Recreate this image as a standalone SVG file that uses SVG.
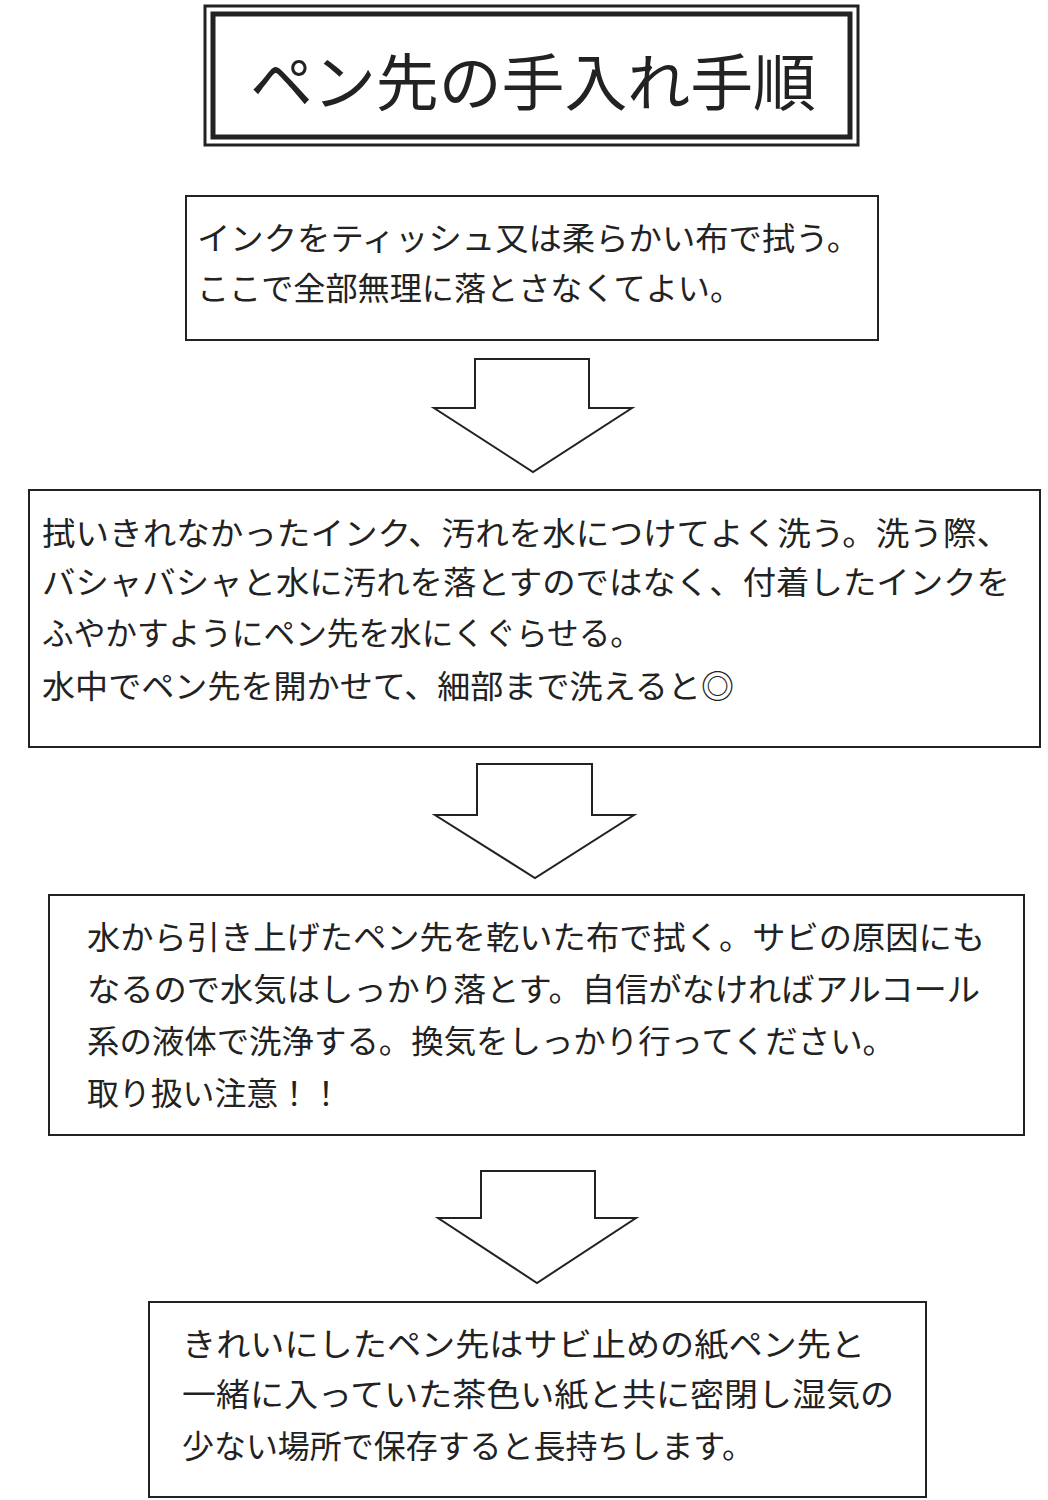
<svg xmlns="http://www.w3.org/2000/svg" width="1048" height="1500" viewBox="0 0 1048 1500">
<style>
.b{fill:#fff;stroke:#222;stroke-width:2}
.t{font-family:"Noto Sans CJK JP","Liberation Sans",sans-serif;font-size:32px;fill:#222}
.a{fill:#fff;stroke:#222;stroke-width:2;stroke-linejoin:miter}
</style>
<rect width="1048" height="1500" fill="#fff"/>
<g id="title">
<rect x="205" y="6" width="653" height="139" fill="#fff" stroke="#222" stroke-width="3"/>
<rect x="213" y="14" width="637" height="123" fill="none" stroke="#222" stroke-width="5"/>
<text x="250" y="106" style="font-family:'Noto Sans CJK JP',sans-serif;font-size:62px;fill:#222" textLength="566" lengthAdjust="spacingAndGlyphs">ペン先の手入れ手順</text>
</g>
<g id="step1">
<rect class="b" x="186" y="196" width="692" height="144"/>
<text class="t" x="197" y="250" textLength="663" lengthAdjust="spacingAndGlyphs">インクをティッシュ又は柔らかい布で拭う。</text>
<text class="t" x="197" y="300" textLength="545" lengthAdjust="spacingAndGlyphs">ここで全部無理に落とさなくてよい。</text>
</g>
<g id="step2">
<rect class="b" x="29" y="490" width="1011" height="257"/>
<text class="t" x="42" y="545" textLength="968" lengthAdjust="spacingAndGlyphs">拭いきれなかったインク、汚れを水につけてよく洗う。洗う際、</text>
<text class="t" x="42" y="594" textLength="968" lengthAdjust="spacingAndGlyphs">バシャバシャと水に汚れを落とすのではなく、付着したインクを</text>
<text class="t" x="42" y="645" textLength="600" lengthAdjust="spacingAndGlyphs">ふやかすようにペン先を水にくぐらせる。</text>
<text class="t" x="42" y="698" textLength="692" lengthAdjust="spacingAndGlyphs">水中でペン先を開かせて、細部まで洗えると◎</text>
</g>
<g id="step3">
<rect class="b" x="49" y="895" width="975" height="240"/>
<text class="t" x="87" y="949" textLength="898" lengthAdjust="spacingAndGlyphs">水から引き上げたペン先を乾いた布で拭く。サビの原因にも</text>
<text class="t" x="87" y="1001" textLength="893" lengthAdjust="spacingAndGlyphs">なるので水気はしっかり落とす。自信がなければアルコール</text>
<text class="t" x="87" y="1053" textLength="808" lengthAdjust="spacingAndGlyphs">系の液体で洗浄する。換気をしっかり行ってください。</text>
<text class="t" x="87" y="1105" textLength="255" lengthAdjust="spacingAndGlyphs">取り扱い注意！！</text>
</g>
<g id="step4">
<rect class="b" x="149" y="1302" width="777" height="195"/>
<text class="t" x="182" y="1356" textLength="683" lengthAdjust="spacingAndGlyphs">きれいにしたペン先はサビ止めの紙ペン先と</text>
<text class="t" x="182" y="1406" textLength="712" lengthAdjust="spacingAndGlyphs">一緒に入っていた茶色い紙と共に密閉し湿気の</text>
<text class="t" x="182" y="1458" textLength="572" lengthAdjust="spacingAndGlyphs">少ない場所で保存すると長持ちします。</text>
</g>
<g id="connectors">
<polygon class="a" points="475,359 589,359 589,408 632,408 533,472 434,408 475,408"/>
<polygon class="a" points="477,764 592,764 592,815 634,815 535,878 435,815 477,815"/>
<polygon class="a" points="481,1171 595,1171 595,1218 636,1218 537,1283 438,1218 481,1218"/>
</g>
</svg>
